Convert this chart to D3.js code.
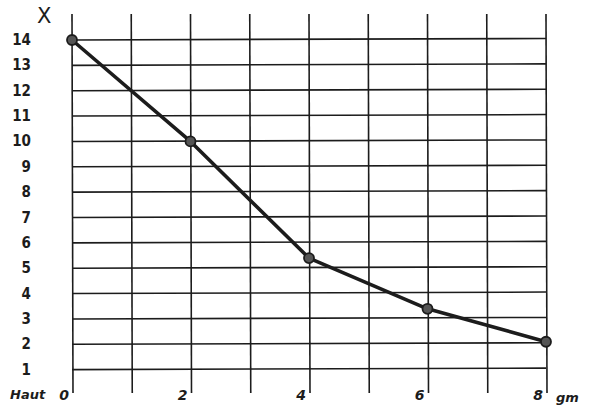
<!DOCTYPE html>
<html><head><meta charset="utf-8">
<script src="https://cdn.jsdelivr.net/npm/d3@7"></script>
<style>body{margin:0;background:#fff}svg{display:block}</style>
</head><body>
<svg id="c" width="592" height="413"></svg>
<script>
const xValues = [0, 2, 4, 6, 8];
const yValues = [14, 10, 5.4, 3.4, 2.1];
const yTicks = [1,2,3,4,5,6,7,8,9,10,11,12,13,14];
const xGrid = [0,1,2,3,4,5,6,7,8];
const xTickLabels = [0, 2, 4, 6, 8];

const svg = d3.select("#c");
const x = d3.scaleLinear().domain([0, 8]).range([72, 546]);
const y = d3.scaleLinear().domain([0, 14]).range([395, 40]);
const ink = "#1c1c1c";

// vertical grid lines
svg.append("g").selectAll("line").data(xGrid).join("line")
  .attr("x1", d => x(d)).attr("x2", d => x(d) + 1)
  .attr("y1", 14).attr("y2", 393)
  .attr("stroke", ink).attr("stroke-width", 1.6);

// horizontal grid lines
svg.append("g").selectAll("line").data(yTicks).join("line")
  .attr("x1", x(0)).attr("x2", x(8))
  .attr("y1", d => y(d)).attr("y2", d => y(d) - 1.5)
  .attr("stroke", ink).attr("stroke-width", 1.6);

// y tick labels
svg.append("g").selectAll("text").data(yTicks).join("text")
  .attr("x", 31).attr("y", d => y(d) + 5)
  .attr("text-anchor", "end")
  .attr("font-family", "DejaVu Sans Condensed, DejaVu Sans")
  .attr("font-weight", "bold").attr("font-size", 15)
  .attr("fill", ink).text(d => d);

svg.append("text").attr("x", 37).attr("y", 23)
  .attr("font-family", "DejaVu Sans").attr("font-size", 21)
  .attr("fill", ink).text("X");

// x tick labels
svg.append("g").selectAll("text").data(xTickLabels).join("text")
  .attr("x", d => x(d) - 3).attr("y", 400)
  .attr("text-anchor", "end")
  .attr("font-family", "DejaVu Sans").attr("font-style", "italic")
  .attr("font-weight", "bold").attr("font-size", 14)
  .attr("fill", ink).text(d => d);

svg.append("text").attr("x", 10).attr("y", 399)
  .attr("font-family", "DejaVu Sans").attr("font-style", "italic")
  .attr("font-weight", "bold").attr("font-size", 13).attr("fill", ink).text("Haut");

svg.append("text").attr("x", x(8) + 10).attr("y", 402)
  .attr("font-family", "DejaVu Sans").attr("font-style", "italic")
  .attr("font-weight", "bold").attr("font-size", 13).attr("fill", ink).text("gm");

// data line
const pts = xValues.map((v, i) => [v, yValues[i]]);
svg.append("path").datum(pts)
  .attr("d", d3.line().x(d => x(d[0])).y(d => y(d[1])))
  .attr("fill", "none").attr("stroke", ink).attr("stroke-width", 3.6)
  .attr("stroke-linejoin", "round");

svg.append("g").selectAll("circle").data(pts).join("circle")
  .attr("cx", d => x(d[0])).attr("cy", d => y(d[1])).attr("r", 5)
  .attr("fill", "#555").attr("stroke", ink).attr("stroke-width", 1.8);
</script>
</body></html>
